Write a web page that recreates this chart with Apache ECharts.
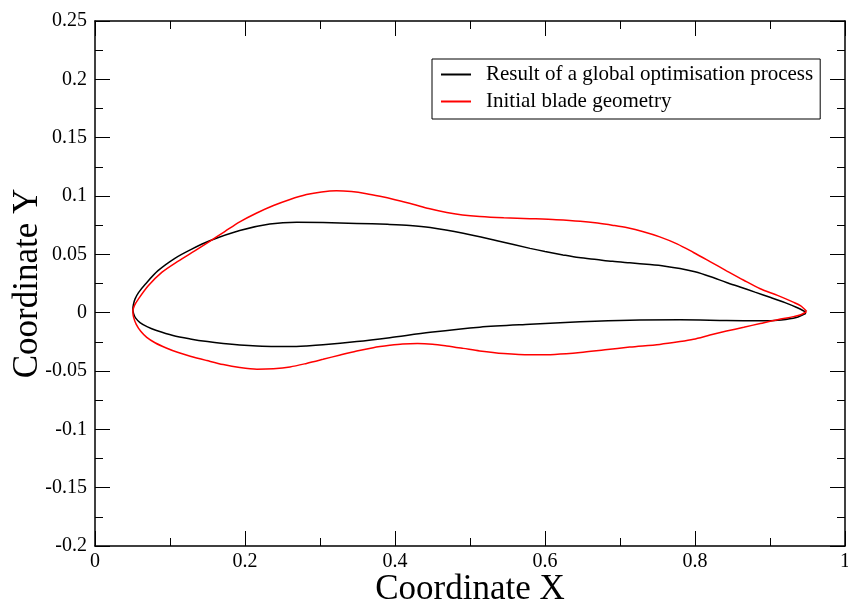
<!DOCTYPE html>
<html>
<head>
<meta charset="utf-8">
<script src="https://cdn.jsdelivr.net/npm/echarts@6/dist/echarts.min.js"></script>
<style>
html,body{margin:0;padding:0;background:#fff;}
#chart{width:848px;height:603px;}
</style>
</head>
<body>
<div id="chart"></div>
<script>
// Optimised blade (black): upper surface TE -> LE, lower surface LE -> TE
const optUpperX = [0.948, 0.935, 0.920, 0.900, 0.880, 0.860, 0.842, 0.820, 0.800, 0.780, 0.760, 0.740, 0.713, 0.690, 0.669, 0.645, 0.624, 0.600, 0.580, 0.536, 0.491, 0.447, 0.420, 0.390, 0.349, 0.304, 0.269, 0.233, 0.193, 0.153, 0.129, 0.107, 0.084, 0.067, 0.058, 0.0533, 0.0512, 0.0505];
const optUpperY = [0.0005, 0.0046, 0.0086, 0.0132, 0.0176, 0.0220, 0.0259, 0.0310, 0.0350, 0.0378, 0.0398, 0.0412, 0.0427, 0.0440, 0.0455, 0.0472, 0.0495, 0.0524, 0.0551, 0.0616, 0.0680, 0.0730, 0.0748, 0.0757, 0.0765, 0.0773, 0.0775, 0.0759, 0.0704, 0.0616, 0.0545, 0.0468, 0.0360, 0.0244, 0.0172, 0.0116, 0.0068, 0.0030];
const optLowerX = [0.0515, 0.054, 0.060, 0.070, 0.082, 0.104, 0.127, 0.150, 0.171, 0.193, 0.216, 0.240, 0.260, 0.282, 0.304, 0.349, 0.393, 0.447, 0.513, 0.580, 0.647, 0.713, 0.780, 0.842, 0.887, 0.915, 0.935, 0.948];
const optLowerY = [-0.0010, -0.0045, -0.0085, -0.0122, -0.0153, -0.0196, -0.0225, -0.0248, -0.0264, -0.0277, -0.0286, -0.0290, -0.0290, -0.0285, -0.0276, -0.0248, -0.0214, -0.0168, -0.0124, -0.0099, -0.0078, -0.0064, -0.0061, -0.0067, -0.0070, -0.0062, -0.0042, -0.0005];

// Initial blade (red): upper surface TE -> LE, lower surface LE -> TE
const initUpperX = [0.949, 0.941, 0.931, 0.910, 0.887, 0.865, 0.842, 0.820, 0.798, 0.776, 0.753, 0.730, 0.710, 0.691, 0.670, 0.647, 0.615, 0.580, 0.545, 0.513, 0.490, 0.469, 0.445, 0.424, 0.400, 0.380, 0.362, 0.342, 0.322, 0.302, 0.282, 0.260, 0.238, 0.215, 0.193, 0.173, 0.153, 0.133, 0.111, 0.089, 0.071, 0.0578, 0.0525, 0.0505];
const initUpperY = [0.0010, 0.0058, 0.0090, 0.0148, 0.0205, 0.0278, 0.0359, 0.0438, 0.0516, 0.0590, 0.0650, 0.0696, 0.0727, 0.0748, 0.0768, 0.0784, 0.0797, 0.0806, 0.0814, 0.0825, 0.0838, 0.0858, 0.0892, 0.0930, 0.0968, 0.0997, 0.1020, 0.1038, 0.1045, 0.1035, 0.1012, 0.0970, 0.0918, 0.0852, 0.0778, 0.0695, 0.0612, 0.0530, 0.0442, 0.0345, 0.0230, 0.0116, 0.0060, 0.0010];
const initLowerX = [0.0515, 0.055, 0.061, 0.069, 0.080, 0.095, 0.110, 0.127, 0.149, 0.171, 0.193, 0.216, 0.238, 0.260, 0.282, 0.304, 0.327, 0.349, 0.371, 0.393, 0.410, 0.430, 0.450, 0.469, 0.491, 0.513, 0.545, 0.580, 0.613, 0.647, 0.680, 0.713, 0.753, 0.780, 0.798, 0.820, 0.842, 0.865, 0.887, 0.910, 0.931, 0.941, 0.949];
const initLowerY = [-0.0040, -0.0100, -0.0160, -0.0212, -0.0258, -0.0303, -0.0340, -0.0373, -0.0410, -0.0445, -0.0470, -0.0484, -0.0480, -0.0465, -0.0435, -0.0400, -0.0362, -0.0328, -0.0300, -0.0280, -0.0268, -0.0264, -0.0270, -0.0285, -0.0306, -0.0328, -0.0350, -0.0361, -0.0358, -0.0342, -0.0318, -0.0295, -0.0272, -0.0248, -0.0228, -0.0192, -0.0158, -0.0125, -0.0093, -0.0060, -0.0034, -0.0018, 0.0010];

const seriesNames = ['Result of a global optimisation process', 'Initial blade geometry'];
const axisNames = ['Coordinate X', 'Coordinate Y'];

function zip(xs, ys) { return xs.map((x, i) => [x, ys[i]]); }
const optData = zip(optUpperX, optUpperY).concat(zip(optLowerX, optLowerY));
const initData = zip(initUpperX, initUpperY).concat(zip(initLowerX, initLowerY));

const font = 'Liberation Serif';
const tickStyle = { color: '#000', width: 1 };
const axisLineStyle = { color: '#000', width: 1.5 };

const chart = echarts.init(document.getElementById('chart'), null, { renderer: 'canvas' });
chart.setOption({
  backgroundColor: '#fff',
  animation: false,
  grid: { left: 95, right: 3, top: 21, bottom: 57, containLabel: false, outerBoundsMode: 'none' },
  legend: {
    orient: 'vertical',
    left: 432, top: 59,
    width: 388,
    borderColor: '#000', borderWidth: 1,
    padding: [5, 7, 7, 8],
    itemWidth: 30, itemHeight: 14, itemGap: 6,
    itemStyle: { opacity: 0 },
    textStyle: { fontFamily: font, fontSize: 21, color: '#000', padding: [0, 0, 0, 10] },
    data: seriesNames
  },
  xAxis: [{
    type: 'value', min: 0, max: 1, interval: 0.2,
    name: axisNames[0], nameLocation: 'middle', nameGap: 26, nameMoveOverlap: false,
    nameTextStyle: { fontFamily: font, fontSize: 35, color: '#000' },
    axisLine: { show: true, onZero: false, lineStyle: axisLineStyle },
    axisTick: { show: true, inside: true, length: 15, lineStyle: tickStyle },
    minorTick: { show: true, splitNumber: 2, length: 8, lineStyle: tickStyle },
    axisLabel: { fontFamily: font, fontSize: 20, color: '#000', margin: 6 },
    splitLine: { show: false }
  }, {
    type: 'value', min: 0, max: 1, interval: 0.2, position: 'top',
    axisLine: { show: true, onZero: false, lineStyle: axisLineStyle },
    axisTick: { show: true, inside: true, length: 15, lineStyle: tickStyle },
    minorTick: { show: true, splitNumber: 2, length: 8, lineStyle: tickStyle },
    axisLabel: { show: false },
    splitLine: { show: false }
  }],
  yAxis: [{
    type: 'value', min: -0.2, max: 0.25, interval: 0.05,
    name: axisNames[1], nameLocation: 'middle', nameGap: 50, nameMoveOverlap: false,
    nameTextStyle: { fontFamily: font, fontSize: 35, color: '#000' },
    axisLine: { show: true, onZero: false, lineStyle: axisLineStyle },
    axisTick: { show: true, inside: true, length: 15, lineStyle: tickStyle },
    minorTick: { show: true, splitNumber: 2, length: 8, lineStyle: tickStyle },
    axisLabel: { fontFamily: font, fontSize: 20, color: '#000', margin: 8 },
    splitLine: { show: false }
  }, {
    type: 'value', min: -0.2, max: 0.25, interval: 0.05, position: 'right',
    axisLine: { show: true, onZero: false, lineStyle: axisLineStyle },
    axisTick: { show: true, inside: true, length: 15, lineStyle: tickStyle },
    minorTick: { show: true, splitNumber: 2, length: 8, lineStyle: tickStyle },
    axisLabel: { show: false },
    splitLine: { show: false }
  }],
  series: [{
    name: seriesNames[0], type: 'line', data: optData,
    xAxisIndex: 0, yAxisIndex: 0,
    smooth: 0.3, symbol: 'none',
    lineStyle: { color: '#000', width: 1.5 }, itemStyle: { color: '#000' }
  }, {
    name: seriesNames[1], type: 'line', data: initData,
    xAxisIndex: 0, yAxisIndex: 0,
    smooth: 0.3, symbol: 'none',
    lineStyle: { color: '#ff0000', width: 1.5 }, itemStyle: { color: '#ff0000' }
  }]
});
</script>
</body>
</html>
